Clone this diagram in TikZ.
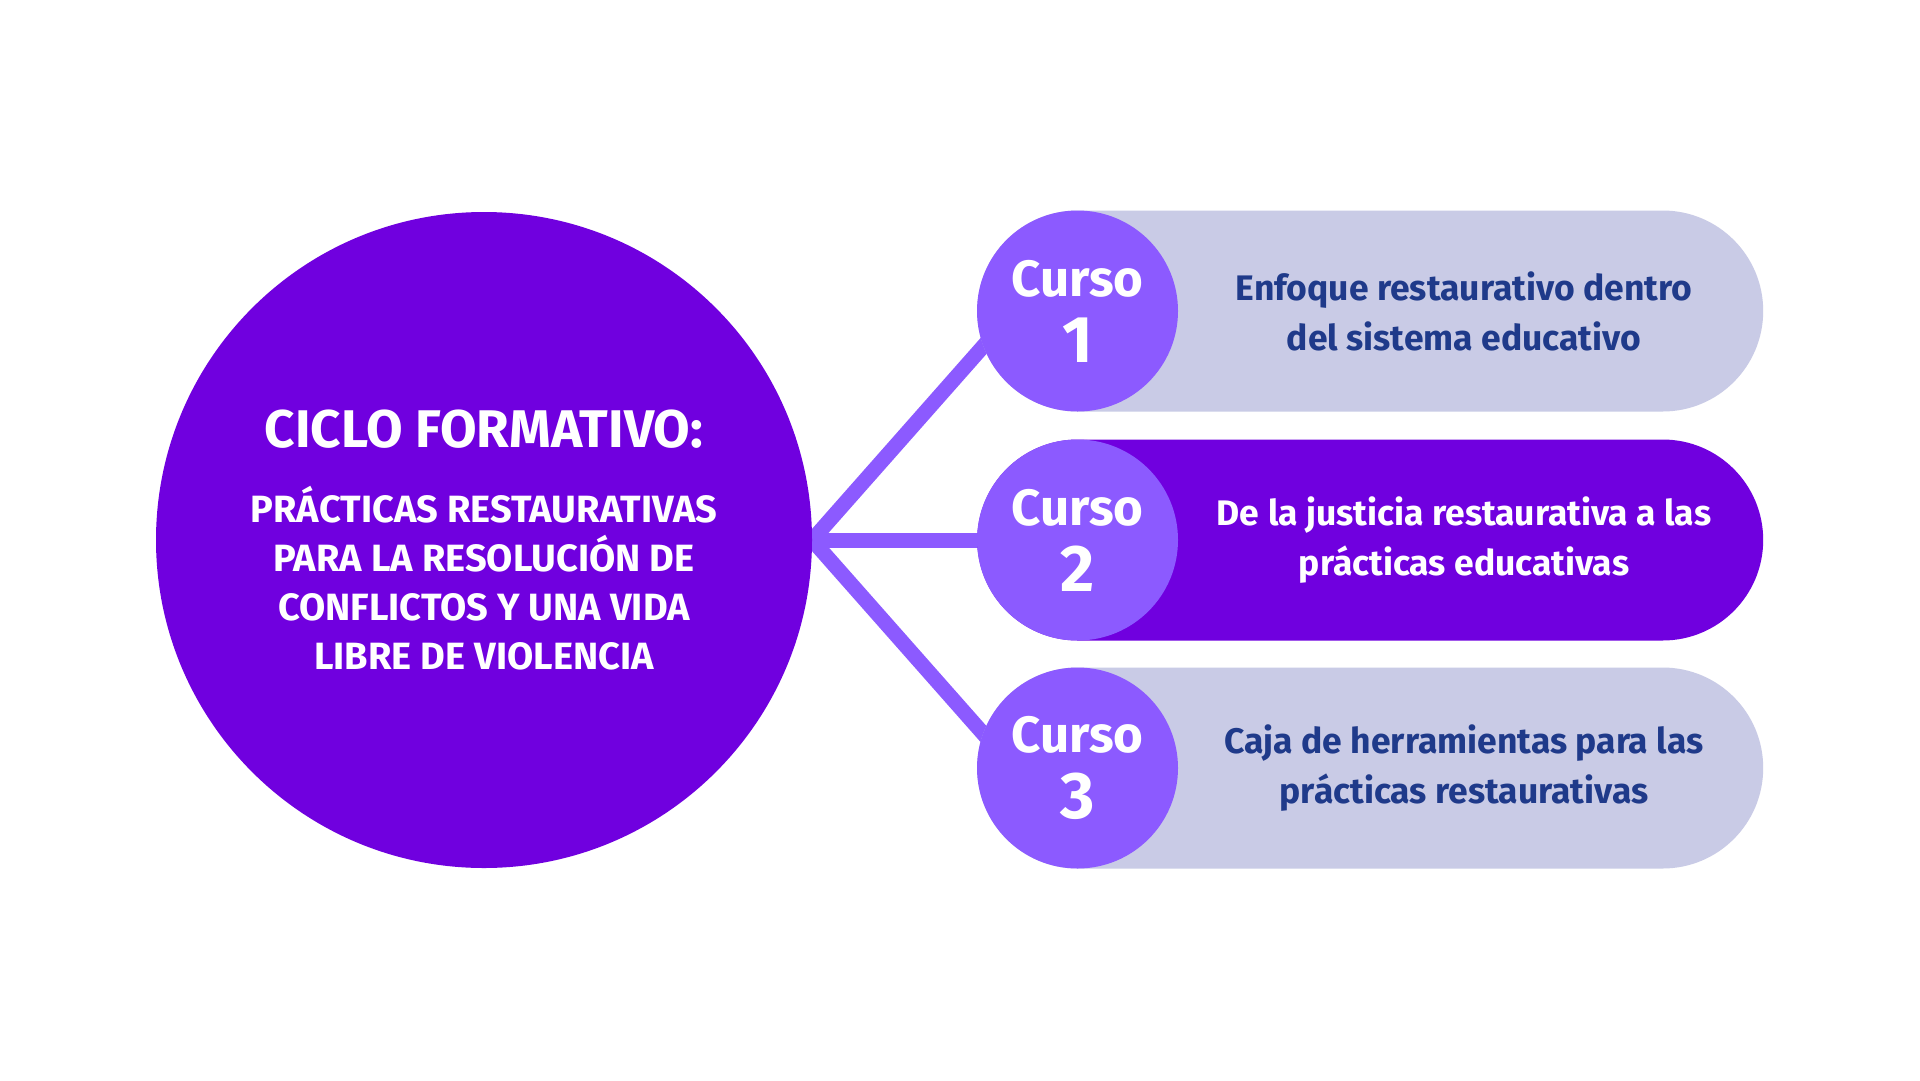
\documentclass[tikz,border=0pt]{standalone}
\usepackage{fontspec}
\setmainfont{Fira Sans}
\usetikzlibrary{backgrounds}
\definecolor{deep}{HTML}{7000DF}
\definecolor{mid}{HTML}{8C5AFF}
\definecolor{pale}{HTML}{C9CBE6}
\definecolor{navy}{HTML}{1F3A8A}
\tikzset{
  pill/.style={rectangle, rounded corners=100.5pt, minimum width=786pt, minimum height=201pt, inner sep=0pt, anchor=west},
  badge/.style={circle, fill=mid, minimum size=201pt, inner sep=0pt, text=white, align=center, font=\bfseries\fontsize{51}{66}\selectfont},
  pilltext/.style={align=center, font=\bfseries\fontsize{35.5}{50}\selectfont},
  link/.style={draw=mid, line width=15pt, line join=miter},
}
\newcommand{\bignum}[1]{\fontsize{66}{66}\selectfont #1}
\begin{document}
\begin{tikzpicture}[x=1pt,y=-1pt]
\useasboundingbox (0,0) rectangle (1920,1080);

\node[circle, fill=deep, minimum size=656pt, inner sep=0pt, text=white, align=center,
      font=\bfseries\fontsize{38}{49}\selectfont] (big) at (484,540)
  {\fontsize{53}{60}\selectfont CICLO FORMATIVO:\\[26pt]
   PRÁCTICAS RESTAURATIVAS\\
   PARA LA RESOLUCIÓN DE\\
   CONFLICTOS Y UNA VIDA\\
   LIBRE DE VIOLENCIA};

\node[pill, fill=pale] (p1) at (977,311) {};
\node[pill, fill=deep] (p2) at (977,540) {};
\node[pill, fill=pale] (p3) at (977,768) {};

\node[badge] (c1) at (1077.5,311) {Curso\\\bignum{1}};
\node[badge] (c2) at (1077.5,540) {Curso\\\bignum{2}};
\node[badge] (c3) at (1077.5,768) {Curso\\\bignum{3}};

\node[pilltext, text=navy] (t1) at (1464,311) {Enfoque restaurativo dentro\\del sistema educativo};
\node[pilltext, text=white] (t2) at (1464,540) {De la justicia restaurativa a las\\prácticas educativas};
\node[pilltext, text=navy] (t3) at (1464,768) {Caja de herramientas para las\\prácticas restaurativas};

\coordinate (e1) at (1010,316);
\coordinate (e3) at (1010,764);
\begin{scope}[on background layer]
  \fill[white] (0,0) rectangle (1920,1080);
  \draw[link] (e1) -- (big.east) -- (e3);
  \draw[link] (big.east) -- (c2.center);
\end{scope}
\end{tikzpicture}
\end{document}
